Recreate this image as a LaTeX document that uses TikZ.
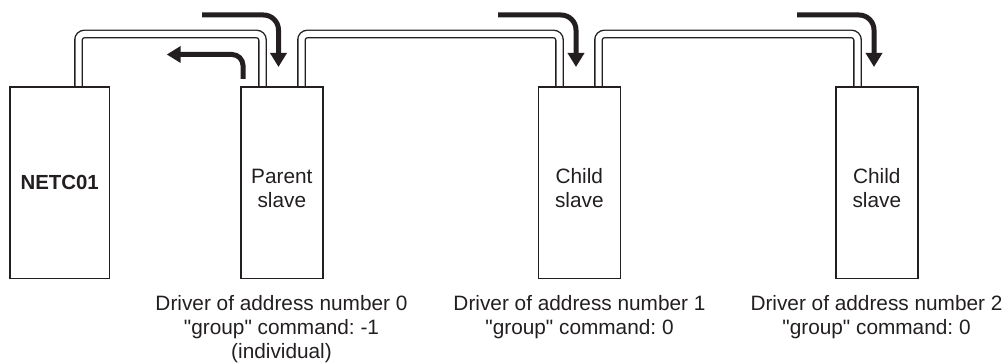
\documentclass[tikz,border=0pt]{standalone}
\usepackage{fontspec}
\setmainfont{Liberation Sans}
\usetikzlibrary{arrows.meta}
\definecolor{ink}{RGB}{35,31,32}
\frenchspacing
\begin{document}
\begin{tikzpicture}[x=1pt,y=-1pt,
  unitbox/.style={draw=ink, line width=1.4pt, fill=white, inner sep=0pt,
    minimum width=82pt, minimum height=191.7pt},
  boxtext/.style={text=ink, inner sep=0pt, align=center,
    font=\fontsize{20.8}{24.4}\selectfont},
  captext/.style={text=ink, inner sep=0pt, align=center,
    font=\fontsize{20.8}{24}\selectfont},
  cable/.style={draw=ink, line width=1.4pt, double=white, double distance=6pt,
    rounded corners=6pt},
  flow/.style={draw=ink, line width=5pt,
    -{Triangle[width=16pt,length=14pt]}}
]
\useasboundingbox (0,0) rectangle (1008,363);

% cables (drawn first, boxes cover their ends)
\coordinate (c1a) at (78.5,87);
\coordinate (c1b) at (262.5,87);
\coordinate (c2a) at (301.5,87);
\coordinate (c2b) at (559.5,87);
\coordinate (c3a) at (598.5,87);
\coordinate (c3b) at (857.5,87);
\draw[cable] (c1a) -- (78.5,34) -| (c1b);
\draw[cable] (c2a) -- (301.5,34) -| (c2b);
\draw[cable] (c3a) -- (598.5,34) -| (c3b);

% units
\node[unitbox, minimum width=99.3pt] (netc) at (59.7,182.8) {};
\node[unitbox] (parent) at (281.8,182.8) {};
\node[unitbox] (child1) at (579.3,182.8) {};
\node[unitbox] (child2) at (876.8,182.8) {};

% texts in units (base = baseline of last line)
\node[boxtext, anchor=base, font=\fontsize{20.4}{24}\selectfont\bfseries] (netct) at (59.7,190) {NETC01};
\node[boxtext, anchor=base] (parentt) at (281.8,207.7) {Parent\\slave};
\node[boxtext, anchor=base] (child1t) at (579.3,207.7) {Child\\slave};
\node[boxtext, anchor=base] (child2t) at (876.8,207.7) {Child\\slave};

% captions
\node[captext, anchor=base] (cap0) at (281.5,358) {Driver of address number 0\\\textquotedbl group\textquotedbl{} command: -1\\(individual)};
\node[captext, anchor=base] (cap1) at (579.5,334) {Driver of address number 1\\\textquotedbl group\textquotedbl{} command: 0};
\node[captext, anchor=base] (cap2) at (876.5,334) {Driver of address number 2\\\textquotedbl group\textquotedbl{} command: 0};

% flow arrows
\draw[flow, rounded corners=15pt] (202,15) -| (278.5,67);
\draw[flow, rounded corners=11pt] (243,79) |- (166.7,54.5);
\draw[flow, rounded corners=15pt] (498,15) -| (576,67);
\draw[flow, rounded corners=15pt] (797,15) -| (874,67);
\end{tikzpicture}
\end{document}
